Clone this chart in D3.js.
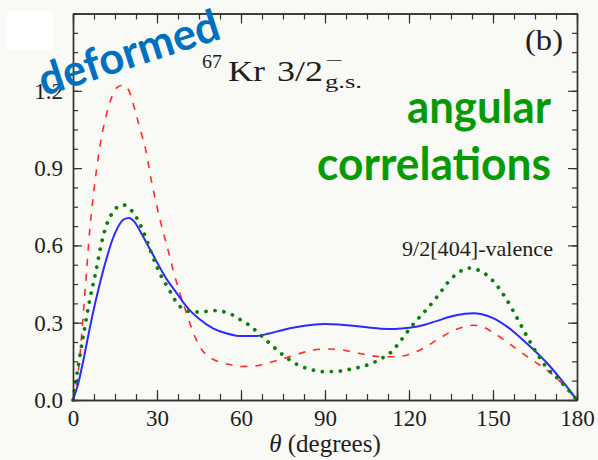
<!DOCTYPE html>
<html>
<head>
<meta charset="utf-8">
<script src="https://cdn.jsdelivr.net/npm/d3@7"></script>
<style>
  html, body { margin: 0; padding: 0; background: #f9f9f5; }
  svg { display: block; }
</style>
</head>
<body>
<svg id="chart" width="598" height="460"></svg>
<script>
// Angular correlation W(theta) for 67Kr 3/2- g.s., three model curves
const redCurve = [
  [0,0],[2,0.12],[4,0.38],[6,0.66],[8,0.86],[10,1.01],[12,1.11],[14,1.18],[16,1.215],
  [18,1.222],[20,1.20],[22,1.13],[24,1.05],[26,0.97],[28,0.85],[30,0.75],[32,0.66],
  [34,0.58],[36,0.495],[38,0.42],[40,0.355],[42,0.29],[44,0.235],[46,0.195],[48,0.172],
  [50,0.158],[55,0.14],[60,0.13],[65,0.132],[70,0.145],[75,0.16],[80,0.177],[85,0.192],
  [90,0.198],[95,0.196],[100,0.186],[105,0.175],[110,0.168],[115,0.168],[120,0.177],
  [125,0.20],[130,0.233],[135,0.265],[140,0.285],[143,0.29],[146,0.285],[150,0.262],
  [155,0.225],[160,0.185],[165,0.148],[170,0.11],[175,0.06],[180,0]
];
const blueCurve = [
  [0,0],[2,0.07],[4,0.17],[6,0.28],[8,0.38],[10,0.47],[12,0.55],[14,0.62],[16,0.67],
  [18,0.70],[20,0.706],[22,0.69],[24,0.655],[26,0.615],[28,0.575],[30,0.535],[32,0.495],
  [34,0.46],[36,0.43],[38,0.40],[40,0.37],[42,0.345],[45,0.315],[50,0.278],[55,0.258],
  [60,0.248],[65,0.248],[70,0.258],[75,0.272],[80,0.283],[85,0.291],[90,0.295],[95,0.293],
  [100,0.288],[105,0.282],[110,0.277],[115,0.276],[120,0.28],[125,0.29],[130,0.307],
  [135,0.324],[140,0.335],[143,0.337],[146,0.333],[150,0.318],[155,0.285],[160,0.24],
  [165,0.19],[170,0.135],[175,0.07],[180,0]
];
const greenCurve = [
  [0,0],[2,0.14],[4,0.27],[6,0.39],[8,0.49],[10,0.60],[12,0.68],[14,0.725],[16,0.75],
  [18,0.757],[20,0.745],[22,0.72],[24,0.68],[26,0.63],[28,0.57],[30,0.517],[32,0.47],
  [34,0.435],[36,0.395],[38,0.365],[40,0.35],[42,0.343],[45,0.342],[48,0.344],[51,0.347],
  [54,0.342],[57,0.33],[60,0.31],[63,0.29],[66,0.262],[70,0.222],[75,0.175],[80,0.138],
  [85,0.118],[90,0.11],[95,0.112],[100,0.122],[105,0.135],[110,0.16],[113,0.18],
  [116,0.215],[119,0.259],[122,0.30],[125,0.336],[130,0.40],[135,0.47],[140,0.508],
  [142,0.512],[145,0.503],[148,0.483],[151,0.45],[154,0.405],[157,0.35],[160,0.29],
  [163,0.23],[166,0.175],[170,0.115],[173,0.085],[176,0.05],[180,0]
];

const xMajorTicks = [0, 30, 60, 90, 120, 150, 180];
const yMajorTicks = [0, 0.3, 0.6, 0.9, 1.2];
const yTickLabels = ["0.0", "0.3", "0.6", "0.9", "1.2"];

const svg = d3.select("#chart");
const x = d3.scaleLinear().domain([0, 180]).range([73, 577]);
const y = d3.scaleLinear().domain([0, 1.5]).range([400, 13.5]);

const serif = "'Liberation Serif', 'Times New Roman', serif";
const axisColor = "#333";
const ink = "#1e1e1e";

// background + blank box in the corner
svg.append("rect").attr("width", 598).attr("height", 460).attr("fill", "#f9f9f5");
svg.append("rect").attr("x", 7).attr("y", 11).attr("width", 46).attr("height", 39).attr("fill", "#ffffff");

// curves
const line = d3.line().x(d => x(d[0])).y(d => y(d[1])).curve(d3.curveMonotoneX);
svg.append("path").datum(redCurve).attr("d", line)
  .attr("fill", "none").attr("stroke", "#ff2a2a").attr("stroke-width", 1.6)
  .attr("stroke-dasharray", "7,8");
svg.append("path").datum(blueCurve).attr("d", line)
  .attr("fill", "none").attr("stroke", "#2b2bff").attr("stroke-width", 2);
svg.append("path").datum(greenCurve).attr("d", line)
  .attr("fill", "none").attr("stroke", "#0a7f0a").attr("stroke-width", 3.8)
  .attr("stroke-linecap", "round").attr("stroke-dasharray", "0.01,9");

// axes (ticks point inward on all four sides)
const minorX = d3.range(0, 180.01, 7.5);
const minorY = d3.range(0, 1.5001, 0.075);

function styleAxis(g) {
  g.selectAll("path.domain").attr("stroke", axisColor).attr("stroke-width", 1.4);
  g.selectAll(".tick line").attr("stroke", axisColor).attr("stroke-width", 1.2);
  g.selectAll(".tick text").attr("font-family", serif).attr("font-size", 23).attr("fill", ink);
}

// bottom
svg.append("g").attr("transform", "translate(0,400)")
  .call(d3.axisBottom(x).tickValues(minorX).tickSizeInner(-6).tickSizeOuter(0).tickFormat(""))
  .call(styleAxis);
svg.append("g").attr("transform", "translate(0,400)")
  .call(d3.axisBottom(x).tickValues(xMajorTicks).tickSizeInner(-10).tickSizeOuter(0)
    .tickPadding(10).tickFormat(d3.format("d")))
  .call(styleAxis);
// top
svg.append("g").attr("transform", "translate(0,13.5)")
  .call(d3.axisTop(x).tickValues(minorX).tickSizeInner(-6).tickSizeOuter(0).tickFormat(""))
  .call(styleAxis);
svg.append("g").attr("transform", "translate(0,13.5)")
  .call(d3.axisTop(x).tickValues(xMajorTicks).tickSizeInner(-10).tickSizeOuter(0).tickFormat(""))
  .call(styleAxis);
// left
svg.append("g").attr("transform", "translate(73,0)")
  .call(d3.axisLeft(y).tickValues(minorY).tickSizeInner(-5).tickSizeOuter(0).tickFormat(""))
  .call(styleAxis);
svg.append("g").attr("transform", "translate(73,0)")
  .call(d3.axisLeft(y).tickValues(yMajorTicks).tickSizeInner(-9).tickSizeOuter(0)
    .tickPadding(10).tickFormat((d, i) => yTickLabels[i]))
  .call(styleAxis);
// right
svg.append("g").attr("transform", "translate(577,0)")
  .call(d3.axisRight(y).tickValues(minorY).tickSizeInner(-5).tickSizeOuter(0).tickFormat(""))
  .call(styleAxis);
svg.append("g").attr("transform", "translate(577,0)")
  .call(d3.axisRight(y).tickValues(yMajorTicks).tickSizeInner(-9).tickSizeOuter(0).tickFormat(""))
  .call(styleAxis);

// x-axis title
const xt = svg.append("text").attr("x", 325).attr("y", 452).attr("text-anchor", "middle")
  .attr("font-family", serif).attr("font-size", 25).attr("fill", ink);
xt.append("tspan").attr("font-style", "italic").text("θ");
xt.append("tspan").text(" (degrees)");

// panel tag
svg.append("text").attr("x", 563).attr("y", 50).attr("text-anchor", "end")
  .attr("font-family", serif).attr("font-size", 30).attr("fill", ink)
  .attr("textLength", 38).attr("lengthAdjust", "spacingAndGlyphs").text("(b)");

// nucleus / state label
const kr = svg.append("g").attr("font-family", serif).attr("fill", ink);
kr.append("text").attr("x", 202).attr("y", 68).attr("font-size", 19)
  .attr("textLength", 20).attr("lengthAdjust", "spacingAndGlyphs").text("67");
kr.append("text").attr("x", 228).attr("y", 81).attr("font-size", 29)
  .attr("textLength", 37).attr("lengthAdjust", "spacingAndGlyphs").text("Kr");
kr.append("text").attr("x", 277).attr("y", 81).attr("font-size", 29)
  .attr("textLength", 46).attr("lengthAdjust", "spacingAndGlyphs").text("3/2");
kr.append("text").attr("x", 325).attr("y", 66).attr("font-size", 17)
  .attr("textLength", 18).attr("lengthAdjust", "spacingAndGlyphs").text("−");
kr.append("text").attr("x", 325).attr("y", 88).attr("font-size", 18)
  .attr("textLength", 37).attr("lengthAdjust", "spacingAndGlyphs").text("g.s.");

// configuration label
svg.append("text").attr("x", 402).attr("y", 256).attr("font-family", serif)
  .attr("font-size", 22).attr("fill", ink)
  .attr("textLength", 151).attr("lengthAdjust", "spacingAndGlyphs").text("9/2[404]-valence");

// headline words
const sans = "Lato, 'Open Sans', sans-serif";

const defG = svg.append("g").attr("transform", "translate(129,54) rotate(-18)");
defG.append("text").attr("text-anchor", "middle").attr("y", 14)
  .attr("font-family", sans).attr("font-weight", "bold").attr("font-size", 44)
  .attr("textLength", 188).attr("lengthAdjust", "spacingAndGlyphs")
  .attr("fill", "#0070c0").text("deformed");

svg.append("text").attr("x", 551).attr("y", 122.5).attr("text-anchor", "end")
  .attr("font-family", sans).attr("font-weight", "bold").attr("font-size", 45)
  .attr("textLength", 144).attr("lengthAdjust", "spacingAndGlyphs")
  .attr("fill", "#079a07").text("angular");
svg.append("text").attr("x", 551).attr("y", 180).attr("text-anchor", "end")
  .attr("font-family", sans).attr("font-weight", "bold").attr("font-size", 45)
  .attr("textLength", 234).attr("lengthAdjust", "spacingAndGlyphs")
  .attr("fill", "#079a07").text("correlations");
</script>
</body>
</html>
